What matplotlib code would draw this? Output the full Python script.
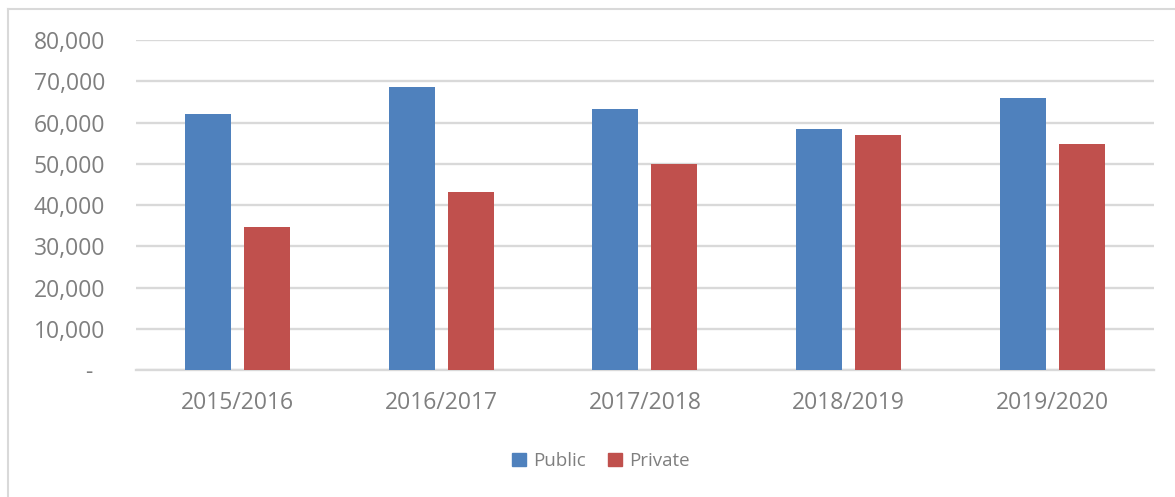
import numpy as np
import matplotlib.pyplot as plt
from matplotlib.patches import Patch
from matplotlib.lines import Line2D

years = ["2015/2016", "2016/2017", "2017/2018", "2018/2019", "2019/2020"]
public = [62100, 68500, 63200, 58500, 65900]
private = [34700, 43100, 50000, 56900, 54700]
yticks = [0, 10000, 20000, 30000, 40000, 50000, 60000, 70000, 80000]
ytick_labels = ["-  ", "10,000", "20,000", "30,000", "40,000", "50,000",
                "60,000", "70,000", "80,000"]

blue = "#4F81BD"
red = "#C0504D"
grey_text = "#7F7F7F"
grid_col = "#D9D9D9"

plt.rcParams['font.family'] = ['Open Sans', 'DejaVu Sans']

fig = plt.figure(figsize=(11.75, 4.97), dpi=100)
ax = fig.add_axes([0.1155, 0.2555, 0.8666, 0.664])

x = np.arange(len(years))
w = 0.226
off = 0.145
ax.bar(x - off, public, w, color=blue, zorder=3, label="Public")
ax.bar(x + off, private, w, color=red, zorder=3, label="Private")

ax.set_xlim(-0.5, len(years) - 0.5)
ax.set_ylim(0, 80000)
ax.set_yticks(yticks)
ax.set_yticklabels(ytick_labels)
ax.set_xticks(x)
ax.set_xticklabels(years)

ax.tick_params(axis='y', length=0, pad=22, labelsize=16.5, labelcolor=grey_text)
ax.tick_params(axis='x', length=0, pad=15, labelsize=16.5, labelcolor=grey_text)

ax.grid(axis='y', color=grid_col, linewidth=1.7, zorder=0)
for s in ["top", "right", "left"]:
    ax.spines[s].set_visible(False)
ax.spines["bottom"].set_color(grid_col)
ax.spines["bottom"].set_linewidth(1.7)

handles = [Patch(color=blue, label="Public"), Patch(color=red, label="Private")]
fig.legend(handles=handles, loc="center", bbox_to_anchor=(0.5115, 0.072),
           ncol=2, frameon=False, fontsize=13.5, labelcolor=grey_text,
           handlelength=0.72, handleheight=0.72, handletextpad=0.38,
           columnspacing=1.2)

# chart border (only top and left edges fall inside the image)
fig.add_artist(Line2D([8 / 1175, 1], [1 - 9 / 497, 1 - 9 / 497],
                      transform=fig.transFigure, color=grid_col, linewidth=1.5))
fig.add_artist(Line2D([8 / 1175, 8 / 1175], [0, 1 - 9 / 497],
                      transform=fig.transFigure, color=grid_col, linewidth=1.5))

fig.savefig("out.png", dpi=100)
